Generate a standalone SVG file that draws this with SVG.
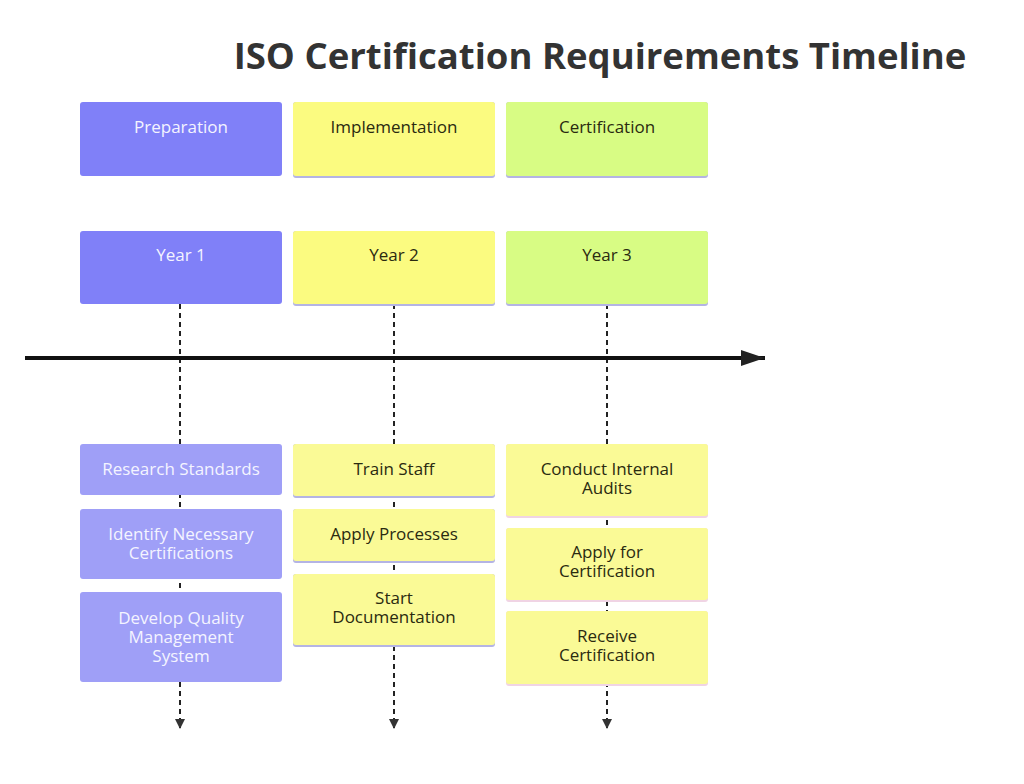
<svg xmlns="http://www.w3.org/2000/svg" width="1024" height="784" viewBox="0 0 1024 784">
<defs>
<style>
.t{font-family:"Open Sans","Liberation Sans",sans-serif;font-size:17px;text-anchor:middle;dominant-baseline:central}
.w{fill:#f4f4ff}
.d{fill:#2a2a10}
.title{font-family:"Open Sans","Liberation Sans",sans-serif;font-size:36.5px;font-weight:bold;fill:#333333}
.dash{stroke:#222;stroke-width:2;stroke-dasharray:5 4;fill:none}
</style>
<marker id="ah" viewBox="0 0 10 10" refX="9" refY="5" markerWidth="10" markerHeight="10" markerUnits="userSpaceOnUse" orient="auto"><path d="M0,0 L10,5 L0,10 z" fill="#333"/></marker>
<marker id="big" viewBox="0 0 24 16" refX="24" refY="8" markerWidth="24" markerHeight="16" markerUnits="userSpaceOnUse" orient="auto"><path d="M0,0 L24,8 L0,16 z" fill="#222"/></marker>
</defs>
<rect width="1024" height="784" fill="#ffffff"/>
<text class="title" x="600" y="69" text-anchor="middle">ISO Certification Requirements Timeline</text>

<g id="connectors">
<line class="dash" x1="180" y1="304" x2="180" y2="728" marker-end="url(#ah)"/>
<line class="dash" x1="394" y1="304" x2="394" y2="728" marker-end="url(#ah)"/>
<line class="dash" x1="607" y1="304" x2="607" y2="728" marker-end="url(#ah)"/>
<line x1="25" y1="358" x2="765" y2="358" stroke="#111" stroke-width="4" marker-end="url(#big)"/>
</g>

<g id="phase-preparation"><rect x="80" y="102" width="202" height="74" rx="3" fill="#8080f8"/><text class="t w" x="181" y="126">Preparation</text></g>
<g id="phase-implementation"><rect x="293" y="102" width="202" height="76" rx="3" fill="#b4b4e4"/><rect x="293" y="102" width="202" height="74" rx="3" fill="#fbfb80"/><text class="t d" x="394" y="126">Implementation</text></g>
<g id="phase-certification"><rect x="506" y="102" width="202" height="76" rx="3" fill="#b4b4e4"/><rect x="506" y="102" width="202" height="74" rx="3" fill="#d8fc84"/><text class="t d" x="607" y="126">Certification</text></g>

<g id="year-1"><rect x="80" y="231" width="202" height="73" rx="3" fill="#8080f8"/><text class="t w" x="181" y="254">Year 1</text></g>
<g id="year-2"><rect x="293" y="231" width="202" height="75" rx="3" fill="#b4b4e4"/><rect x="293" y="231" width="202" height="73" rx="3" fill="#fbfb80"/><text class="t d" x="394" y="254">Year 2</text></g>
<g id="year-3"><rect x="506" y="231" width="202" height="75" rx="3" fill="#b4b4e4"/><rect x="506" y="231" width="202" height="73" rx="3" fill="#d8fc84"/><text class="t d" x="607" y="254">Year 3</text></g>

<g id="research-standards"><rect x="80" y="444" width="202" height="51" rx="3" fill="#9f9ff7"/><text class="t w" x="181" y="468">Research Standards</text></g>
<g id="identify-certifications"><rect x="80" y="509" width="202" height="70" rx="3" fill="#9f9ff7"/><text class="t w" x="181" y="533">Identify Necessary<tspan x="181" dy="19">Certifications</tspan></text></g>
<g id="develop-qms"><rect x="80" y="592" width="202" height="90" rx="3" fill="#9f9ff7"/><text class="t w" x="181" y="617">Develop Quality<tspan x="181" dy="19">Management</tspan><tspan x="181" dy="19">System</tspan></text></g>

<g id="train-staff"><rect x="293" y="444" width="202" height="54" rx="3" fill="#b4b4e4"/><rect x="293" y="444" width="202" height="52" rx="3" fill="#fafa96"/><text class="t d" x="394" y="468">Train Staff</text></g>
<g id="apply-processes"><rect x="293" y="509" width="202" height="54" rx="3" fill="#b4b4e4"/><rect x="293" y="509" width="202" height="52" rx="3" fill="#fafa96"/><text class="t d" x="394" y="533">Apply Processes</text></g>
<g id="start-documentation"><rect x="293" y="574" width="202" height="73" rx="3" fill="#b4b4e4"/><rect x="293" y="574" width="202" height="71" rx="3" fill="#fafa96"/><text class="t d" x="394" y="597">Start<tspan x="394" dy="19">Documentation</tspan></text></g>

<g id="internal-audits"><rect x="506" y="444" width="202" height="74" rx="3" fill="#f0d4e4"/><rect x="506" y="444" width="202" height="72" rx="3" fill="#fafa96"/><text class="t d" x="607" y="468">Conduct Internal<tspan x="607" dy="19">Audits</tspan></text></g>
<g id="apply-certification"><rect x="506" y="528" width="202" height="74" rx="3" fill="#f0d4e4"/><rect x="506" y="528" width="202" height="72" rx="3" fill="#fafa96"/><text class="t d" x="607" y="551">Apply for<tspan x="607" dy="19">Certification</tspan></text></g>
<g id="receive-certification"><rect x="506" y="611" width="202" height="75" rx="3" fill="#f0d4e4"/><rect x="506" y="611" width="202" height="73" rx="3" fill="#fafa96"/><text class="t d" x="607" y="635">Receive<tspan x="607" dy="19">Certification</tspan></text></g>
</svg>
